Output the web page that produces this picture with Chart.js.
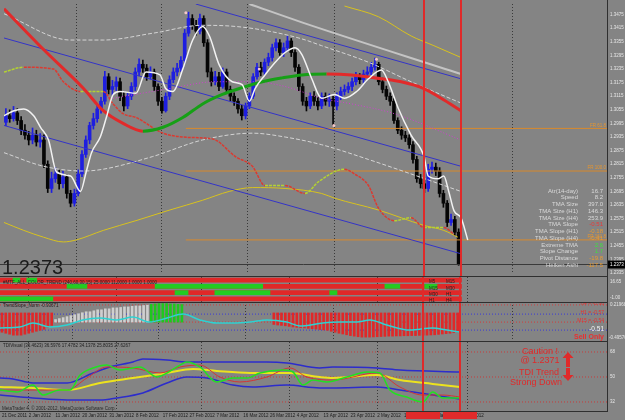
<!DOCTYPE html>
<html>
<head>
<meta charset="utf-8">
<title>EURUSD Daily</title>
<script src="https://cdn.jsdelivr.net/npm/chart.js@4.4.1/dist/chart.umd.min.js"></script>
<style>
  html, body { margin: 0; padding: 0; background: #848484; }
  #wrap { position: relative; width: 625px; height: 420px; overflow: hidden; background: #848484; }
  #wrap canvas { position: absolute; left: 0; }
  .sep { position: absolute; left: 0; width: 607px; height: 1px; background: #2f2f2f; }
  .axis { position: absolute; left: 607px; top: 0; width: 1px; height: 412px; background: #2f2f2f; }
</style>
</head>
<body>
<div id="wrap">
  <canvas id="main" width="625" height="277" style="top:0"></canvas>
  <canvas id="trend" width="625" height="25" style="top:277px"></canvas>
  <canvas id="slope" width="625" height="40" style="top:302px"></canvas>
  <canvas id="tdi" width="625" height="78" style="top:342px"></canvas>
  <div class="sep" style="top:276px"></div>
  <div class="sep" style="top:302px"></div>
  <div class="sep" style="top:341px"></div>
  <div class="axis"></div>
</div>
<script>
// ---- price data (daily bars, 21 Dec 2011 .. end of May 2012) ----
const firstOpen = 1.3000;
const closes = [1.3029,1.3016,1.3042,1.3008,1.2965,1.2943,1.2922,1.2943,1.2913,1.2922,
  1.2815,1.2708,1.2751,1.2772,1.2729,1.2759,1.2686,1.2643,1.2686,1.2772,
  1.2858,1.2922,1.2986,1.3016,1.3059,1.3093,1.3201,1.3145,1.3158,1.3179,
  1.3115,1.3072,1.3115,1.3158,1.3222,1.3256,1.3239,1.3201,1.3222,1.3158,
  1.3093,1.3051,1.3115,1.3188,1.3222,1.3239,1.3273,1.3393,1.3458,1.3428,
  1.3402,1.3458,1.3351,1.3222,1.3179,1.3201,1.3158,1.3222,1.3145,1.3115,
  1.3093,1.3059,1.3029,1.3072,1.3115,1.3201,1.3243,1.3222,1.3265,1.3286,
  1.3329,1.3351,1.3308,1.3329,1.3359,1.3308,1.3243,1.3158,1.3093,1.3072,
  1.3115,1.3093,1.3072,1.3115,1.3093,1.3102,1.3072,1.3115,1.3136,1.3145,
  1.3158,1.3179,1.3201,1.3188,1.3213,1.3222,1.3243,1.3256,1.3179,1.3145,
  1.3115,1.3093,1.3008,1.2965,1.2943,1.2931,1.2901,1.2836,1.2751,1.2729,
  1.2708,1.2793,1.2802,1.2785,1.2686,1.2643,1.2558,1.2571,1.2515,1.2373];
const highs = [1.3060,1.3055,1.3070,1.3060,1.3025,1.2990,1.2960,1.2975,1.2965,1.2950,
  1.2945,1.2830,1.2780,1.2800,1.2790,1.2785,1.2770,1.2700,1.2705,1.2790,
  1.2875,1.2940,1.3000,1.3040,1.3080,1.3110,1.3225,1.3215,1.3185,1.3200,
  1.3195,1.3135,1.3130,1.3175,1.3240,1.3280,1.3275,1.3255,1.3245,1.3235,
  1.3170,1.3110,1.3130,1.3205,1.3240,1.3260,1.3290,1.3410,1.3486,1.3475,
  1.3450,1.3478,1.3470,1.3365,1.3240,1.3225,1.3220,1.3240,1.3235,1.3160,
  1.3130,1.3105,1.3075,1.3085,1.3130,1.3215,1.3260,1.3265,1.3280,1.3305,
  1.3345,1.3368,1.3365,1.3350,1.3380,1.3370,1.3320,1.3255,1.3170,1.3110,
  1.3130,1.3135,1.3110,1.3130,1.3130,1.3125,1.3115,1.3130,1.3155,1.3165,
  1.3175,1.3195,1.3220,1.3215,1.3230,1.3245,1.3265,1.3283,1.3265,1.3195,
  1.3160,1.3130,1.3105,1.3020,1.2980,1.2960,1.2945,1.2915,1.2850,1.2770,
  1.2745,1.2815,1.2825,1.2820,1.2800,1.2700,1.2655,1.2595,1.2585,1.2530];
const lows = [1.2985,1.3000,1.3005,1.2990,1.2945,1.2925,1.2900,1.2905,1.2895,1.2890,
  1.2800,1.2690,1.2690,1.2735,1.2705,1.2710,1.2665,1.2627,1.2630,1.2675,
  1.2760,1.2845,1.2905,1.2970,1.3000,1.3040,1.3080,1.3125,1.3120,1.3140,
  1.3095,1.3050,1.3060,1.3100,1.3140,1.3205,1.3220,1.3185,1.3190,1.3140,
  1.3075,1.3040,1.3045,1.3100,1.3175,1.3205,1.3225,1.3260,1.3380,1.3410,
  1.3385,1.3390,1.3335,1.3200,1.3160,1.3165,1.3140,1.3150,1.3130,1.3095,
  1.3075,1.3040,1.3010,1.3015,1.3060,1.3105,1.3190,1.3205,1.3210,1.3250,
  1.3270,1.3315,1.3295,1.3290,1.3315,1.3290,1.3225,1.3140,1.3075,1.3050,
  1.3060,1.3075,1.3055,1.3060,1.3075,1.3070,1.2985,1.3055,1.3100,1.3120,
  1.3130,1.3140,1.3165,1.3170,1.3175,1.3200,1.3210,1.3230,1.3165,1.3130,
  1.3100,1.3075,1.2995,1.2950,1.2925,1.2915,1.2885,1.2820,1.2735,1.2710,
  1.2690,1.2695,1.2775,1.2765,1.2670,1.2625,1.2540,1.2545,1.2500,1.2369];

// ---- main panel overlays (bar position, value) ----
const tmaBars = [-0.5,9.9,20.4,25.6,30.8,36.0,41.3,46.5,51.7,56.9,62.1,67.4,72.6,77.8,84.3,90.9,98.7,103.9,109.9,114.4,119.6];
const tmaVals = [1.3501,1.3321,1.3149,1.3051,1.2995,1.2961,1.2978,1.3021,1.3081,1.3123,1.3153,1.3179,1.3196,1.3209,1.3213,1.3209,1.3192,1.3179,1.3149,1.3106,1.3051];
const fastBars = [-0.5,2.1,4.7,7.3,9.1,11.2,13.3,17,19.6,21.1,22.5,24.8,26.4,28.2,30,34.2,36.8,40.5,42,43.9,46.5,49.1,51.7,53.5,56.1,59.5,62.1,64,65.5,68.1,70.8,73.4,76,77.8,80.4,83,86.4,89,92.2,95.3,98.7,100.5,103.1,106.5,109.9,111,113.6,115.1,116.4,117.8,119.6,121.4];
const fastVals = [1.3029,1.3051,1.3059,1.3029,1.2978,1.2922,1.2781,1.2763,1.2695,1.2781,1.2866,1.2935,1.3021,1.3123,1.3136,1.3128,1.3222,1.3209,1.3149,1.3136,1.3235,1.3363,1.3423,1.3381,1.3252,1.3179,1.3166,1.3093,1.3149,1.3209,1.3265,1.3308,1.3329,1.3299,1.3192,1.3106,1.3123,1.3106,1.3136,1.3192,1.3231,1.3179,1.3063,1.2943,1.2849,1.2763,1.2751,1.2763,1.2695,1.2609,1.2579,1.2481];
const bandUpBars = [-0.5,17,25.6,38.6,51.7,60.3,69.2,77.8,83,95.3,106.5,119.6];
const bandUpVals = [1.3479,1.3363,1.3363,1.3393,1.3428,1.3423,1.3402,1.3368,1.3338,1.3265,1.3179,1.3085];
const bandLoBars = [-0.5,9.9,20.4,25.6,38.6,51.7,64.8,73.4,83,95.3,106.5,119.6];
const bandLoVals = [1.2866,1.2806,1.2785,1.2793,1.2849,1.2922,1.2952,1.2935,1.2901,1.2836,1.2772,1.2695];
const greyBars = [64,77.8,119.6];
const greyVals = [1.3522,1.3441,1.3213];
const chanUpBars = [49.9,119.6], chanUpVals = [1.3522,1.3192];
const chanMidBars = [-0.5,119.6], chanMidVals = [1.3372,1.2806];
const chanLoBars = [-0.5,119.6], chanLoVals = [1.2986,1.2420];
const yellowLoBars = [-0.5,4.7,9.9,15.1,18.5,25.6,34.2,43.1,51.7,58.7,64.8,73.4,83,86.4,97.9,109.9,115.1,118.8];
const yellowLoVals = [1.2558,1.2523,1.2493,1.2472,1.2481,1.2523,1.2566,1.2613,1.2656,1.2695,1.2712,1.2708,1.2686,1.2665,1.2613,1.2545,1.2523,1.2493];
const yellowHiBars = [89,97.9,106.5,112.5,119.6];
const yellowHiVals = [1.3513,1.3466,1.3381,1.3338,1.3286];
const magentaBars = [28.2,43.1,55.1,64.8,73.4,83,90.9,102.1,119.6];
const magentaVals = [1.3106,1.3149,1.3179,1.3179,1.3158,1.3106,1.3081,1.3038,1.2922];
const hkBars = [-0.5,4.7,12.5,15.1,19.6,25.6,28.2,30.8,34.2,41.3,46.5,51.7,55.1,60.3,64.8,68.1,73.4,78.6,82.2,89,91.6,95.3,97.9,102.1,106.5,109.9,115.1,117.8];
const hkVals = [1.3222,1.3243,1.3235,1.3179,1.3136,1.3136,1.3081,1.3038,1.3021,1.2952,1.2935,1.2931,1.2922,1.2849,1.2806,1.2721,1.2721,1.2686,1.2738,1.2793,1.2772,1.2721,1.2622,1.2566,1.2579,1.2536,1.2536,1.2506];
const fractalBars = [47.3,66.6,86.2,97.4];
const fractalVals = [1.3483,1.3235,1.2986,1.3278];
const fibLevels = [1.2973,1.2785,1.2481];
const fibNames = ['FR 61.8','FR 100.0','FR 161.8'];
const fibStart = 47.3;
const priceTicks = [1.3475,1.3415,1.3355,1.3295,1.3235,1.3175,1.3115,1.3055,1.2995,1.2935,
  1.2875,1.2815,1.2755,1.2695,1.2635,1.2575,1.2515,1.2455,1.2395,1.2335];
const infoLabels = ['Atr(14-day)','Speed','TMA Size','TMA Size (H1)','TMA Size (H4)','TMA Slope','TMA Slope (H1)','TMA Slope (H4)','Extreme TMA','Slope Change','Pivot Distance','Heiken Ashi'];
const infoValues = ['16.7','8.2','397.0','146.3','253.9','-0.51','-0.18','-0.41','2.6','1.7','-19.8','-117.5'];
const infoColors = ['#dadada','#dadada','#dadada','#dadada','#dadada','#e83a3a','#e89a30','#e89a30','#3ee03e','#3ee03e','#e89a30','#e89a30'];

// ---- trend rows panel ----
const trendRows = ['TF1','TF2','TF3','TF4'];
const trendPairs = [['M5','M15'],['M15','M30'],['M30','H1'],['H1','H4']];
const trendGreenRow = [0,0,1,1,1,1,2,2,2,3];
const trendGreenFrom = [2.9,6.5,17,40,100,110.4,45.2,55.6,85.6,-0.5];
const trendGreenTo = [4.7,9.1,22.2,68.1,103.9,113.6,48.6,70,87.5,13.3];

// ---- trend slope panel ----
const slopeNorm = [-0.55,-0.6,-0.65,-0.7,-0.7,-0.7,-0.65,-0.6,-0.55,-0.5,-0.45,-0.4,-0.3,-0.2,
  0.1,0.15,0.2,0.25,0.3,0.35,0.4,0.45,0.5,0.5,0.55,0.6,0.6,0.65,0.65,0.7,0.7,0.72,0.75,0.75,0.78,0.8,0.8,0.82,0.84,
  0.88,0.9,0.92,0.92,0.92,0.9,0.9,0.88,0.87,
  null,null,null,null,null,null,null,null,null,null,null,null,null,null,null,null,null,null,null,null,null,null,null,
  -0.15,-0.18,-0.2,-0.22,-0.25,-0.28,-0.3,-0.32,-0.33,-0.35,-0.37,-0.39,-0.41,-0.43,-0.45,-0.5,-0.55,-0.6,-0.64,-0.68,
  -0.72,-0.75,-0.78,-0.8,-0.8,-0.8,-0.79,-0.78,-0.77,-0.76,-0.75,-0.75,-0.74,-0.74,-0.73,-0.73,-0.72,-0.72,-0.71,-0.7,
  -0.7,-0.69,-0.68,-0.66,-0.64,-0.62,-0.6,-0.57,-0.54];
const slopeLineBars = [-0.5,4.7,8.1,12.5,17,21.1,25.6,30,34.2,38.6,43.1,47.3,51.7,56.1,60.3,64.8,69.2,74.4,77.8,83.8,88.2,92.7,96.1,100.5,106.5,112.5,116.2,119.6];
const slopeLineVals = [-0.33,-0.28,-0.08,-0.28,-0.18,0.08,0.18,0.08,0.23,-0.03,0.18,0.38,0.08,-0.08,-0.08,-0.03,0.08,-0.03,-0.23,-0.08,-0.03,-0.03,0.08,-0.18,-0.44,-0.33,-0.44,-0.54];
const slopeLevels = [0.85,0.38,-0.03,-0.44];
const slopeLevelColors = ['#d23c3c','#3a3ad8','#d23c3c','#3a3ad8'];
const slopeTexts = ['H4 = -0.66','H1 = -0.57','M15 = -0.54','-0.51'];

// ---- TDI panel ----
const tdiUpBars = [-0.5,2.9,8.1,17,23.8,28.2,34.2,36.8,43.1,48.3,60.3,69.2,74.4,83,86.4,97.9,103.9,119.6];
const tdiUpVals = [49.3,48.6,45.7,45.7,52.9,57.2,60.8,63.0,62.2,60.8,60.8,60.8,60.1,56.5,57.2,56.5,55.0,53.6];
const tdiLoBars = [-0.5,8.1,17,25.6,30,36.8,43.1,48.3,53.5,60.3,65.5,74.4,83,86.4,97.9,103.9,112.5,119.6];
const tdiLoVals = [37.0,34.9,33.4,33.4,34.9,38.5,45.7,50.0,49.3,44.2,42.8,44.2,42.1,42.1,42.8,40.6,37.0,34.2];
const tdiBaseBars = [-0.5,8.1,17,25.6,34.2,43.1,49.9,56.1,64.8,75.2,83,86.4,97.9,103.9,112.5,119.6];
const tdiBaseVals = [42.8,42.1,40.6,45.7,49.3,52.9,55.8,54.3,52.9,52.9,50.0,49.3,51.4,47.8,45.0,42.8];
const tdiPriceBars = [-0.5,3.9,8.1,10.7,15.1,17.8,20.4,23.8,27.4,30.8,34.2,36,40.5,43.1,46.5,48.3,51.7,56.1,60.3,64,67.4,73.4,76,78.6,81.2,84.9,90.1,95.3,98.7,101.3,105.7,109.9,112.5,115.1,119.6];
const tdiPriceVals = [40.6,39.2,44.2,37.0,40.6,40.6,51.4,56.5,58.6,55.0,56.5,57.2,50.0,52.9,58.6,60.8,57.2,46.4,49.3,49.3,52.9,55.0,53.6,44.2,47.8,46.4,50.0,53.6,52.9,40.6,35.6,32.0,39.2,34.9,34.9];
const tdiSignalBars = [-0.5,8.1,17,22.2,27.4,34.2,41.3,46.5,51.7,56.9,62.1,69.2,75.2,79.6,86.4,97.9,103.9,109.9,115.1,119.6];
const tdiSignalVals = [40.6,40.6,40.6,49.3,57.2,56.5,52.9,57.2,58.6,50.0,46.4,50.0,56.5,50.0,47.8,52.9,42.8,37.0,37.0,35.6];
const tdiLevels = [68,50,32];

// ---- time axis ----
const dateBars = [0,7,14,21,28,35,42,49,56,63,70,77,84,91,98,105,112,119];
const dateLabels = ['21 Dec 2011','2 Jan 2012','11 Jan 2012','20 Jan 2012','31 Jan 2012','8 Feb 2012','17 Feb 2012','27 Feb 2012','7 Mar 2012','16 Mar 2012','26 Mar 2012','4 Apr 2012','13 Apr 2012','23 Apr 2012','2 May 2012','11 May 2012','21 May 2012','30 May 2012'];
const monthBars = [7,30,52,75,98,121.5];
const vlineBars = [109.9,119.6];

const xMin = -0.5, xMax = 158;
const FONT = '"Liberation Sans", Arial, sans-serif';
const RED = '#e02a2a';

Chart.defaults.font.family = FONT;

function pts(xs, ys) {
  return xs.map((x, k) => ({ x: x, y: ys[k] }));
}

function curve(xs, ys, color, width, dash, order) {
  return {
    type: 'line', data: pts(xs, ys), borderColor: color, borderWidth: width,
    borderDash: dash || [], pointRadius: 0, fill: false,
    cubicInterpolationMode: 'monotone', order: order || 1
  };
}

function flat(v, color, from) {
  return curve([from, xMax], [v, v], color, 1, [1, 2], 40);
}

function gridX() {
  return {
    type: 'linear', min: xMin, max: xMax, offset: false,
    grid: { color: '#3a3a3a', drawTicks: false },
    border: { display: false, dash: [1, 2] },
    ticks: { display: false },
    afterBuildTicks: s => { s.ticks = monthBars.map(v => ({ value: v })); },
    afterFit: s => { s.height = 0; s.paddingLeft = 0; s.paddingRight = 0; }
  };
}

function rightAxis(min, max, ticks, fmt) {
  return {
    position: 'right', min: min, max: max,
    grid: { display: false, drawTicks: false }, border: { display: false },
    ticks: { color: '#e6e6e6', font: { size: 4.5 }, padding: 3, autoSkip: false, callback: fmt },
    afterBuildTicks: s => { s.ticks = ticks.map(v => ({ value: v })); },
    afterFit: s => { s.width = 18; s.paddingTop = 0; s.paddingBottom = 0; }
  };
}

function baseOptions(scales, extra) {
  return Object.assign({
    responsive: false, animation: false, devicePixelRatio: 1, events: [],
    layout: { padding: 0 },
    plugins: { legend: { display: false }, tooltip: { enabled: false } },
    scales: scales
  }, extra || {});
}

function drawVLines(chart, bottom) {
  const ctx = chart.ctx, x = chart.scales.x;
  ctx.save();
  ctx.fillStyle = RED;
  vlineBars.forEach(b => {
    const px = Math.round(x.getPixelForValue(b));
    ctx.fillRect(px - 1, 0, 2, bottom);
  });
  ctx.restore();
}

function text(ctx, s, x, y, font, color, align) {
  ctx.font = font;
  ctx.fillStyle = color;
  ctx.textAlign = align || 'left';
  ctx.textBaseline = 'middle';
  ctx.fillText(s, x, y);
}

// ================= main price panel =================
const opens = closes.map((c, i) => i === 0 ? firstOpen : closes[i - 1]);
const candleColors = closes.map((c, i) => c >= opens[i] ? '#1e1ee0' : '#050505');
const lastClose = closes[closes.length - 1];

const mainDecor = {
  id: 'mainDecor',
  afterDatasetsDraw(chart) {
    const ctx = chart.ctx, y = chart.scales.y;
    const by = Math.round(y.getPixelForValue(lastClose)) + 0.5;
    ctx.save();
    ctx.strokeStyle = '#3a3a3a';
    ctx.lineWidth = 1;
    ctx.beginPath(); ctx.moveTo(0, by); ctx.lineTo(607, by); ctx.stroke();

    fibLevels.forEach((v, k) => {
      text(ctx, fibNames[k], 606, y.getPixelForValue(v) - 3, '4.5px ' + FONT, '#e8962e', 'right');
    });

    infoLabels.forEach((s, k) => {
      const ty = 191 + k * 6.75;
      text(ctx, s, 578, ty, '6px ' + FONT, '#dadada', 'right');
      text(ctx, infoValues[k], 603, ty, '6px ' + FONT, infoColors[k], 'right');
    });

    ctx.font = '20px ' + FONT;
    ctx.fillStyle = '#1c1c1c';
    ctx.textAlign = 'left';
    ctx.textBaseline = 'alphabetic';
    ctx.fillText(lastClose.toFixed(4), 2, 274);

    drawVLines(chart, chart.height);

    ctx.fillStyle = '#000';
    ctx.fillRect(608, by - 4, 17, 8);
    text(ctx, lastClose.toFixed(4), 610, by, '4.5px ' + FONT, '#ffffff', 'left');
    ctx.restore();
  }
};

const mainSets = [
  { type: 'bar', data: closes.map((c, i) => ({ x: i, y: [lows[i], highs[i]] })), backgroundColor: candleColors, barThickness: 1, grouped: false, order: 51 },
  { type: 'bar', data: closes.map((c, i) => ({ x: i, y: [opens[i], c] })), backgroundColor: candleColors, barThickness: 3, grouped: false, order: 50 },
  curve(chanUpBars, chanUpVals, '#3434c8', 1, null, 6),
  curve(chanMidBars, chanMidVals, '#3434c8', 1, null, 6),
  curve(chanLoBars, chanLoVals, '#3434c8', 1, null, 6),
  curve(greyBars, greyVals, '#c4c4c4', 2, null, 6),
  curve(bandUpBars, bandUpVals, '#d4d4d4', 1, [4, 2], 6),
  curve(bandLoBars, bandLoVals, '#d4d4d4', 1, [4, 2], 6),
  curve(yellowLoBars, yellowLoVals, '#d8c21e', 1, null, 6),
  curve(yellowHiBars, yellowHiVals, '#d8c21e', 1, null, 6),
  curve(magentaBars, magentaVals, '#d040d0', 1, [1, 2], 6),
  Object.assign(curve(hkBars, hkVals, '#c8d030', 1.5, [3, 1], 5), {
    segment: { borderColor: c => c.p1.parsed.y >= c.p0.parsed.y ? '#b4d232' : '#dc3a30' }
  }),
  Object.assign(curve(tmaBars, tmaVals, RED, 3, null, 3), {
    segment: { borderColor: c => c.p1.parsed.y >= c.p0.parsed.y ? '#16a016' : '#e22a2a' }
  }),
  curve(fastBars, fastVals, '#f2f2f2', 1.5, null, 2),
  { type: 'line', data: pts(fractalBars, fractalVals), showLine: false, pointRadius: 1.5, pointBorderWidth: 0, pointBackgroundColor: '#f4c8c8', order: 1 }
];
fibLevels.forEach(v => mainSets.push(curve([fibStart, xMax], [v, v], '#d88a2c', 1, null, 7)));

new Chart(document.getElementById('main'), {
  type: 'bar',
  data: { datasets: mainSets },
  options: baseOptions({
    x: gridX(),
    y: rightAxis(1.2335, 1.3522, priceTicks, v => v.toFixed(4))
  }),
  plugins: [mainDecor]
});

// ================= multi timeframe trend rows =================
const trendDecor = {
  id: 'trendDecor',
  afterDatasetsDraw(chart) {
    const ctx = chart.ctx, yS = chart.scales.y;
    ctx.save();
    text(ctx, '#MTF_ALL_COLOR_TREND (240,60,30,15) 25.0000 11.0000 1.0000 1.0000', 3, 6, '4.5px ' + FONT, '#222', 'left');
    trendPairs.forEach((p, k) => {
      const ty = yS.getPixelForValue(k) + 2;
      text(ctx, p[0], 429, ty, '4.5px ' + FONT, '#222', 'left');
      text(ctx, p[1], 446, ty, '4.5px ' + FONT, '#222', 'left');
    });
    text(ctx, '16.65', 610, 5, '4.5px ' + FONT, '#e6e6e6', 'left');
    text(ctx, '-1.00', 610, 21, '4.5px ' + FONT, '#e6e6e6', 'left');
    drawVLines(chart, chart.height);
    ctx.restore();
  }
};

new Chart(document.getElementById('trend'), {
  type: 'bar',
  data: {
    labels: trendRows,
    datasets: [
      { data: trendGreenRow.map((r, k) => ({ y: trendRows[r], x: [trendGreenFrom[k], trendGreenTo[k]] })), backgroundColor: '#22cc22', barThickness: 4, grouped: false, order: 1 },
      { data: trendRows.map(r => ({ y: r, x: [xMin, 120] })), backgroundColor: '#e02828', barThickness: 4, grouped: false, order: 2 }
    ]
  },
  options: baseOptions({
    x: gridX(),
    y: { type: 'category', display: false, offset: true }
  }, { indexAxis: 'y', layout: { padding: { right: 18 } } }),
  plugins: [trendDecor]
});

// ================= trend slope histogram =================
const slopeColors = slopeNorm.map(v => v === null ? 'rgba(0,0,0,0)' : v < 0 ? '#e02828' : v >= 0.86 ? '#1ec81e' : '#cfcfcf');
const slopeDecor = {
  id: 'slopeDecor',
  afterDatasetsDraw(chart) {
    const ctx = chart.ctx, y = chart.scales.y;
    ctx.save();
    text(ctx, 'TrendSlope_Norm -0.93671', 3, 4, '4.5px ' + FONT, '#222', 'left');
    slopeTexts.forEach((s, k) => {
      const white = k === slopeTexts.length - 1;
      text(ctx, s, 604, y.getPixelForValue(slopeLevels[k]) - 1, (white ? '6.5px ' : '5px ') + FONT, white ? '#f4f4f4' : '#e83030', 'right');
    });
    text(ctx, 'Sell Only', 604, y.getPixelForValue(-0.8), 'bold 7px ' + FONT, '#e83030', 'right');
    text(ctx, '0.21968', 610, 3, '4.5px ' + FONT, '#e6e6e6', 'left');
    text(ctx, '-0.49570', 609, 36, '4.5px ' + FONT, '#e6e6e6', 'left');
    drawVLines(chart, chart.height);
    ctx.restore();
  }
};

const slopeSets = [
  { type: 'bar', data: slopeNorm.map((v, i) => ({ x: i, y: v === null ? null : (v < 0 ? [0.44, v] : [-0.03, v]) })), backgroundColor: slopeColors, barThickness: 2, grouped: false, order: 10 },
  curve(slopeLineBars, slopeLineVals, '#2ed2d2', 1.5, null, 1)
];
slopeLevels.forEach((v, k) => slopeSets.push(flat(v, slopeLevelColors[k], xMin)));

new Chart(document.getElementById('slope'), {
  type: 'bar',
  data: { datasets: slopeSets },
  options: baseOptions({
    x: gridX(),
    y: { min: -1.05, max: 1.0, display: false }
  }, { layout: { padding: { right: 18 } } }),
  plugins: [slopeDecor]
});

// ================= TDI panel =================
function arrow(ctx, cx, top, bottom, up) {
  const hw = 5.5, sw = 2, hh = 6;
  ctx.beginPath();
  if (up) {
    ctx.moveTo(cx, top); ctx.lineTo(cx + hw, top + hh); ctx.lineTo(cx + sw, top + hh);
    ctx.lineTo(cx + sw, bottom); ctx.lineTo(cx - sw, bottom); ctx.lineTo(cx - sw, top + hh);
    ctx.lineTo(cx - hw, top + hh);
  } else {
    ctx.moveTo(cx, bottom); ctx.lineTo(cx + hw, bottom - hh); ctx.lineTo(cx + sw, bottom - hh);
    ctx.lineTo(cx + sw, top); ctx.lineTo(cx - sw, top); ctx.lineTo(cx - sw, bottom - hh);
    ctx.lineTo(cx - hw, bottom - hh);
  }
  ctx.closePath();
  ctx.fill();
}

const tdiDecor = {
  id: 'tdiDecor',
  afterDatasetsDraw(chart) {
    const ctx = chart.ctx, x = chart.scales.x, area = chart.chartArea;
    ctx.save();
    text(ctx, 'TDIVisual (36.4623) 36.5976 17.4782 34.1378 25.8035 27.6267', 3, 4, '4.5px ' + FONT, '#222', 'left');
    text(ctx, 'MetaTrader 4, \u00a9 2001-2012, MetaQuotes Software Corp.', 2, 66.5, '4.5px ' + FONT, '#2a2a2a', 'left');
    const f = '9px ' + FONT;
    text(ctx, 'Caution !', 540, 10, f, RED, 'center');
    text(ctx, '@ ' + '1.2371', 540, 18.5, f, RED, 'center');
    text(ctx, 'TDI Trend', 539, 31, f, RED, 'center');
    text(ctx, 'Strong Down', 536, 41, f, RED, 'center');
    ctx.fillStyle = RED;
    arrow(ctx, 568, 10, 25, true);
    arrow(ctx, 568, 26, 39, false);
    drawVLines(chart, area.bottom);
    ctx.fillStyle = RED;
    vlineBars.forEach(b => {
      const px = Math.round(x.getPixelForValue(b));
      ctx.fillRect(px - 17, area.bottom + 1, 34, 7);
    });
    ctx.restore();
  }
};

const tdiSets = [
  curve(tdiUpBars, tdiUpVals, '#2c2ccc', 1.5, null, 4),
  curve(tdiLoBars, tdiLoVals, '#2c2ccc', 1.5, null, 4),
  curve(tdiBaseBars, tdiBaseVals, '#ece21e', 2, null, 3),
  curve(tdiSignalBars, tdiSignalVals, '#d43434', 1, null, 2),
  curve(tdiPriceBars, tdiPriceVals, '#22e022', 1.5, null, 1)
];
tdiLevels.forEach(v => tdiSets.push(flat(v, '#c83a3a', xMin)));

new Chart(document.getElementById('tdi'), {
  type: 'line',
  data: { datasets: tdiSets },
  options: baseOptions({
    x: gridX(),
    xd: {
      type: 'linear', position: 'bottom', min: xMin, max: xMax, offset: false,
      grid: { display: false, drawTicks: false },
      border: { display: true, color: '#2f2f2f' },
      ticks: { color: '#1c1c1c', font: { size: 4.5 }, padding: 2, align: 'start', autoSkip: false, maxRotation: 0, minRotation: 0, callback: (v, i) => dateLabels[i] },
      afterBuildTicks: s => { s.ticks = dateBars.map(v => ({ value: v })); },
      afterFit: s => { s.height = 9; s.paddingLeft = 0; s.paddingRight = 0; }
    },
    y: rightAxis(25.5, 75.2, tdiLevels, v => String(v))
  }),
  plugins: [tdiDecor]
});
</script>
</body>
</html>
